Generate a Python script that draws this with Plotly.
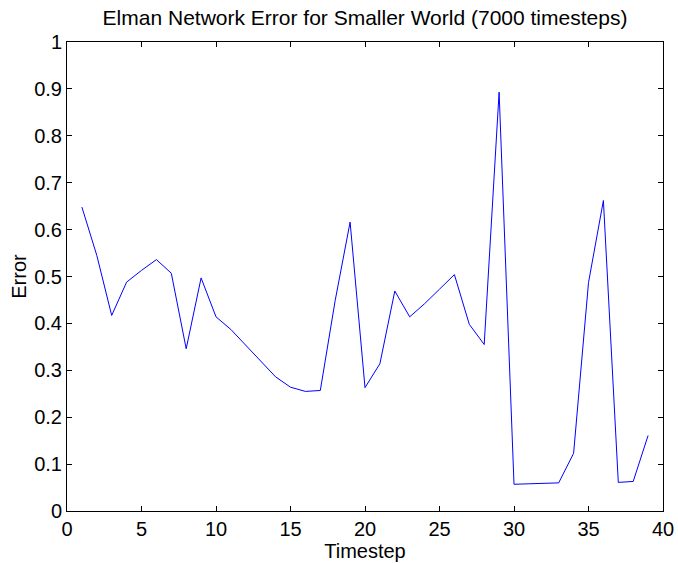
import plotly.graph_objects as go

timesteps = list(range(1, 40))
errors = [0.648, 0.545, 0.417, 0.488, 0.513, 0.536, 0.507, 0.346, 0.497, 0.414,
          0.387, 0.353, 0.319, 0.286, 0.264, 0.255, 0.257, 0.449, 0.616, 0.263,
          0.314, 0.469, 0.414, 0.442, 0.473, 0.504, 0.398, 0.355, 0.893, 0.057,
          0.058, 0.059, 0.060, 0.123, 0.487, 0.662, 0.061, 0.063, 0.161]

x_ticks = [0, 5, 10, 15, 20, 25, 30, 35, 40]
y_ticks = [0, 0.1, 0.2, 0.3, 0.4, 0.5, 0.6, 0.7, 0.8, 0.9, 1]
y_ticklabels = ["0", "0.1", "0.2", "0.3", "0.4", "0.5", "0.6", "0.7", "0.8", "0.9", "1"]

font_family = "Liberation Sans, Arial, Helvetica, sans-serif"
fs = 20

fig = go.Figure()
fig.add_trace(go.Scatter(x=timesteps, y=errors, mode="lines",
                         line=dict(color="#0000ff", width=1), showlegend=False))

axis_common = dict(showgrid=False, zeroline=False, showline=True, linecolor="black",
                   linewidth=1, mirror="ticks", ticks="inside", ticklen=5, automargin=False,
                   tickcolor="black", tickfont=dict(size=fs, color="black", family=font_family))

fig.update_layout(
    width=678, height=563,
    margin=dict(l=67, r=15, t=42, b=52),
    paper_bgcolor="white", plot_bgcolor="white",
    title=dict(text="Elman Network Error for Smaller World (7000 timesteps)",
               x=(67 + 663) / 2 / 678, xanchor="center", y=1 - 18 / 563, yanchor="middle",
               font=dict(size=21, color="black", family=font_family)),
    xaxis=dict(range=[0, 40], tickvals=x_ticks, title=dict(text="Timestep", standoff=0,
               font=dict(size=fs, color="black", family=font_family)), **axis_common),
    yaxis=dict(range=[0, 1], tickvals=y_ticks, ticktext=y_ticklabels,
               title=dict(text="Error", standoff=2,
                          font=dict(size=fs, color="black", family=font_family)), **axis_common),
)

fig.write_html("out.html")
